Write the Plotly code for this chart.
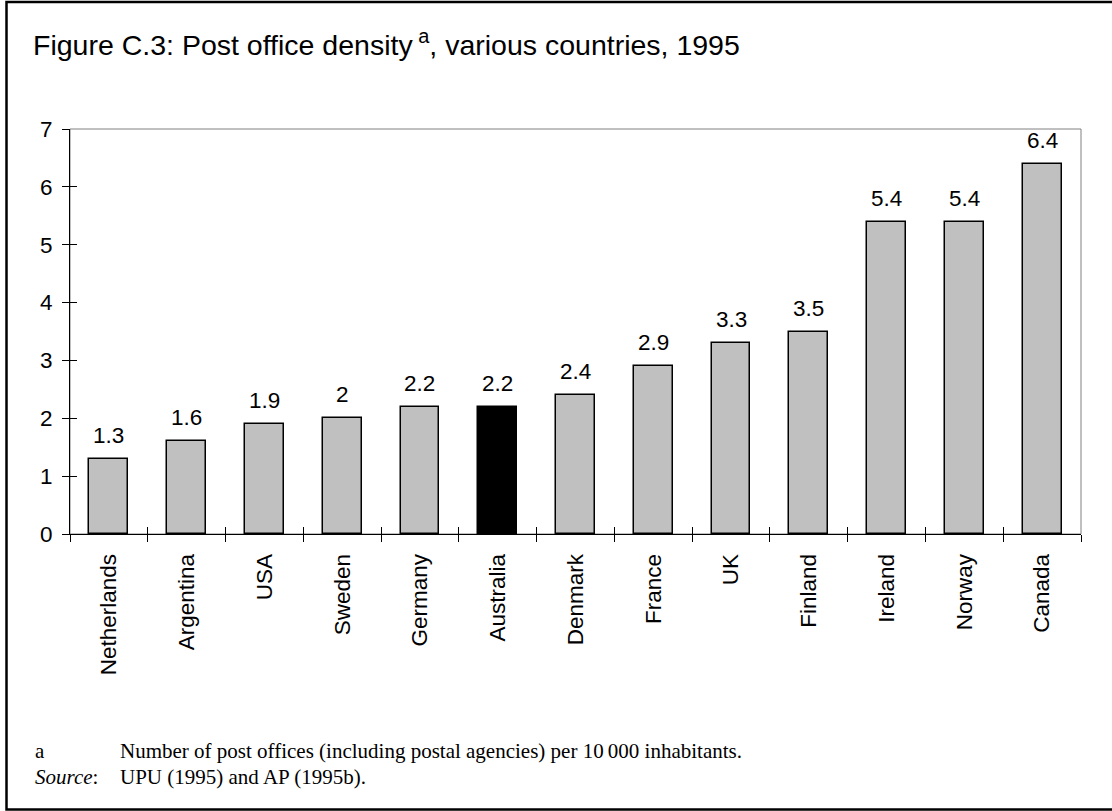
import plotly.graph_objects as go

# ---- data ----
countries = ["Netherlands", "Argentina", "USA", "Sweden", "Germany", "Australia",
             "Denmark", "France", "UK", "Finland", "Ireland", "Norway", "Canada"]
density = [1.3, 1.6, 1.9, 2.0, 2.2, 2.2, 2.4, 2.9, 3.3, 3.5, 5.4, 5.4, 6.4]
highlight = "Australia"
y_ticks = [0, 1, 2, 3, 4, 5, 6, 7]

title_text = "Figure C.3: Post office density<sup> a</sup>, various countries, 1995"
note_key = "a"
note_text = "Number of post offices (including postal agencies) per 10\u2009000 inhabitants."
source_key = "<i>Source</i>:"
source_text = "UPU (1995) and AP (1995b)."

# ---- layout geometry ----
W, H = 1112, 811
L, R, T, B = 70, 31, 129, 277
pw, ph = W - L - R, H - T - B


def px(x):
    return (x - L) / pw


def py(y):
    return (H - B - y) / ph


SANS = "Liberation Sans, Arial, sans-serif"
SERIF = "Liberation Serif, Times New Roman, serif"
FS = 22.5

colors = ["#000000" if c == highlight else "#C0C0C0" for c in countries]

fig = go.Figure()
fig.add_trace(go.Bar(
    x=countries, y=density, width=0.5,
    marker=dict(color=colors, line=dict(color="black", width=1.5)),
    hoverinfo="skip", showlegend=False,
))
# invisible twin trace so the overlaid axes (inner tick halves) are drawn
fig.add_trace(go.Bar(
    x=countries, y=density, width=0.5, xaxis="x2", yaxis="y2",
    marker=dict(color="rgba(0,0,0,0)", line=dict(width=0)),
    hoverinfo="skip", showlegend=False,
))

for c, v in zip(countries, density):
    fig.add_annotation(
        x=c, y=v, text=f"{v:g}", showarrow=False, yanchor="bottom", yshift=9,
        font=dict(family=SANS, size=FS, color="black"),
    )

# footnotes
for txt, x, y in [(note_key, 33, 751), (note_text, 118, 751),
                  (source_key, 33, 777), (source_text, 118, 777)]:
    fig.add_annotation(
        xref="paper", yref="paper", x=px(x), y=py(y), text=txt, showarrow=False,
        xanchor="left", yanchor="middle",
        font=dict(family=SERIF, size=21, color="black"),
    )

# plot frame (grey) and outer border
fig.add_shape(type="rect", xref="paper", yref="paper", x0=0, x1=1, y0=0, y1=1,
              line=dict(color="#808080", width=1), layer="below")
fig.add_shape(type="rect", xref="paper", yref="paper",
              x0=px(6.5), x1=px(1140), y0=py(809.5), y1=py(2),
              line=dict(color="black", width=2.5), layer="below")

fig.update_layout(
    width=W, height=H, autosize=False,
    margin=dict(l=L, r=R, t=T, b=B, pad=0),
    paper_bgcolor="white", plot_bgcolor="white",
    showlegend=False, bargap=0,
    title=dict(text=title_text, x=33 / W, xref="container", xanchor="left",
               y=1 - 45 / H, yref="container", yanchor="middle",
               font=dict(family=SANS, size=28.5, color="black")),
    xaxis=dict(type="category", categoryorder="array", categoryarray=countries,
               range=[-0.5, len(countries) - 0.5], tickson="boundaries",
               ticks="outside", ticklen=7, tickcolor="black", tickwidth=1,
               showline=True, linecolor="black", linewidth=1,
               showgrid=False, zeroline=False, tickangle=-90,
               ticklabelstandoff=10,
               tickfont=dict(family=SANS, size=FS, color="black")),
    xaxis2=dict(type="category", categoryorder="array", categoryarray=countries,
                range=[-0.5, len(countries) - 0.5], tickson="boundaries",
                overlaying="x", ticks="inside", ticklen=7, tickcolor="black",
                tickwidth=1, showticklabels=False, showline=False,
                showgrid=False, zeroline=False),
    yaxis=dict(range=[0, 7], tickvals=y_ticks, ticks="outside", ticklen=7,
               tickcolor="black", tickwidth=1, showline=True, linecolor="black",
               linewidth=1, showgrid=False, zeroline=False,
               ticklabelstandoff=5,
               tickfont=dict(family=SANS, size=FS, color="black")),
    yaxis2=dict(range=[0, 7], tickvals=y_ticks, overlaying="y", ticks="inside",
                ticklen=7, tickcolor="black", tickwidth=1, showticklabels=False,
                showline=False, showgrid=False, zeroline=False),
)

fig.write_html("out.html")
